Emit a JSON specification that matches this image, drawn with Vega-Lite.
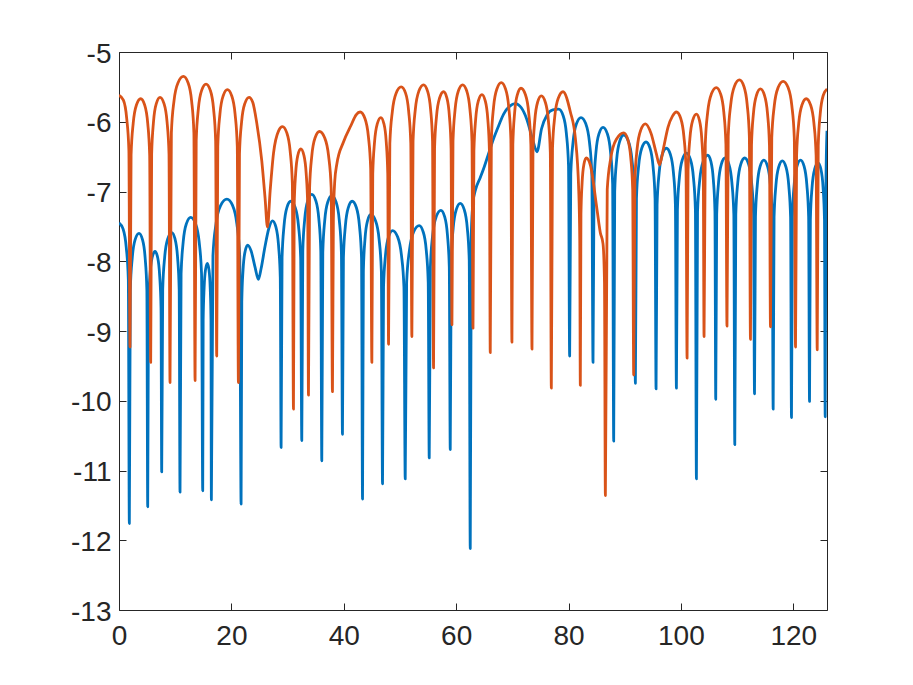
{
  "$schema": "https://vega.github.io/schema/vega-lite/v6.json",
  "width": 708,
  "height": 558,
  "autosize": {"type": "none"},
  "padding": {"left": 119, "top": 52, "right": 86, "bottom": 75},
  "background": "white",
  "config": {
    "view": {"stroke": null},
    "axis": {
      "grid": false,
      "domainColor": "#262626",
      "domainWidth": 1,
      "tickColor": "#262626",
      "tickWidth": 1,
      "tickSize": -7,
      "labelFont": "Liberation Sans",
      "labelFontSize": 28,
      "labelColor": "#262626",
      "labelFlush": false,
      "title": null
    }
  },
  "datasets": {
    "blue": [
      {"x":0,"y":-7.45},{"x":0.74,"y":-7.54},{"x":1.29,"y":-7.80},{"x":1.66,"y":-8.26},{"x":1.84,"y":-11.76},
      {"x":2.01,"y":-8.41},{"x":2.36,"y":-7.95},{"x":2.87,"y":-7.69},{"x":3.56,"y":-7.60},{"x":4.18,"y":-7.69},{"x":4.65,"y":-7.95},{"x":4.96,"y":-8.41},{"x":5.11,"y":-11.52},
      {"x":5.24,"y":-8.67},{"x":5.50,"y":-8.21},{"x":5.89,"y":-7.95},{"x":6.41,"y":-7.86},{"x":6.89,"y":-7.95},{"x":7.24,"y":-8.21},{"x":7.48,"y":-8.67},{"x":7.60,"y":-11.02},
      {"x":7.78,"y":-8.40},{"x":8.13,"y":-7.94},{"x":8.67,"y":-7.68},{"x":9.38,"y":-7.59},{"x":9.97,"y":-7.68},{"x":10.42,"y":-7.94},{"x":10.71,"y":-8.40},{"x":10.86,"y":-11.31},
      {"x":11.05,"y":-8.18},{"x":11.43,"y":-7.72},{"x":12.0,"y":-7.46},{"x":12.76,"y":-7.37},{"x":13.62,"y":-7.46},{"x":14.26,"y":-7.72},{"x":14.69,"y":-8.18},{"x":14.90,"y":-11.29},
      {"x":14.98,"y":-8.84},{"x":15.15,"y":-8.38},{"x":15.40,"y":-8.12},{"x":15.73,"y":-8.03},{"x":16.01,"y":-8.12},{"x":16.23,"y":-8.38},{"x":16.37,"y":-8.84},{"x":16.44,"y":-11.42},
      {"x":16.72,"y":-7.92},{"x":17.27,"y":-7.46},{"x":18.10,"y":-7.20},{"x":19.2,"y":-7.11},{"x":20.21,"y":-7.20},{"x":20.97,"y":-7.46},{"x":21.48,"y":-7.92},{"x":21.73,"y":-11.48},
      {"x":21.85,"y":-8.58},{"x":22.08,"y":-8.12},{"x":22.44,"y":-7.86},{"x":22.91,"y":-7.77},{"x":23.5,"y":-7.85},{"x":24.2,"y":-8.08},{"x":24.81,"y":-8.26},{"x":25.3,"y":-8.1},
      {"x":26.0,"y":-7.78},{"x":26.7,"y":-7.52},{"x":27.31,"y":-7.42},{"x":27.93,"y":-7.51},{"x":28.39,"y":-7.77},{"x":28.70,"y":-8.23},{"x":28.85,"y":-10.67},
      {"x":29.02,"y":-7.95},{"x":29.37,"y":-7.49},{"x":29.88,"y":-7.23},{"x":30.57,"y":-7.14},{"x":31.35,"y":-7.23},{"x":31.94,"y":-7.49},{"x":32.33,"y":-7.95},{"x":32.53,"y":-10.57},
      {"x":32.71,"y":-7.85},{"x":33.06,"y":-7.39},{"x":33.60,"y":-7.13},{"x":34.31,"y":-7.04},{"x":35.02,"y":-7.13},{"x":35.56,"y":-7.39},{"x":35.91,"y":-7.85},{"x":36.09,"y":-10.86},
      {"x":36.27,"y":-7.87},{"x":36.62,"y":-7.41},{"x":37.16,"y":-7.15},{"x":37.87,"y":-7.06},{"x":38.63,"y":-7.15},{"x":39.20,"y":-7.41},{"x":39.58,"y":-7.87},{"x":39.77,"y":-10.48},
      {"x":39.94,"y":-7.95},{"x":40.29,"y":-7.49},{"x":40.81,"y":-7.23},{"x":41.5,"y":-7.14},{"x":42.24,"y":-7.23},{"x":42.79,"y":-7.49},{"x":43.16,"y":-7.95},{"x":43.34,"y":-11.41},
      {"x":43.49,"y":-8.14},{"x":43.78,"y":-7.68},{"x":44.23,"y":-7.42},{"x":44.82,"y":-7.33},{"x":45.65,"y":-7.42},{"x":46.28,"y":-7.68},{"x":46.69,"y":-8.14},{"x":46.9,"y":-11.19},
      {"x":47.08,"y":-8.37},{"x":47.43,"y":-7.91},{"x":47.97,"y":-7.65},{"x":48.68,"y":-7.56},{"x":49.58,"y":-7.65},{"x":50.26,"y":-7.91},{"x":50.71,"y":-8.37},{"x":50.94,"y":-11.12},
      {"x":51.19,"y":-8.30},{"x":51.69,"y":-7.84},{"x":52.43,"y":-7.58},{"x":53.43,"y":-7.49},{"x":54.14,"y":-7.58},{"x":54.68,"y":-7.84},{"x":55.03,"y":-8.30},{"x":55.21,"y":-10.82},
      {"x":55.42,"y":-8.08},{"x":55.83,"y":-7.62},{"x":56.46,"y":-7.36},{"x":57.29,"y":-7.27},{"x":57.95,"y":-7.36},{"x":58.45,"y":-7.62},{"x":58.78,"y":-8.08},{"x":58.95,"y":-10.70},
      {"x":59.13,"y":-7.98},{"x":59.48,"y":-7.52},{"x":60.02,"y":-7.26},{"x":60.73,"y":-7.17},{"x":61.44,"y":-7.26},{"x":61.98,"y":-7.52},{"x":62.33,"y":-7.98},{"x":62.51,"y":-12.12},
      {"x":62.7,"y":-7.6},{"x":63.0,"y":-7.15},{"x":63.4,"y":-6.99},{"x":64.3,"y":-6.80},{"x":64.9,"y":-6.67},{"x":65.8,"y":-6.45},{"x":66.67,"y":-6.24},{"x":67.6,"y":-6.05},
      {"x":68.45,"y":-5.89},{"x":69.5,"y":-5.78},{"x":70.53,"y":-5.74},{"x":71.6,"y":-5.80},{"x":72.6,"y":-5.97},{"x":73.6,"y":-6.25},{"x":74.39,"y":-6.43},{"x":75.2,"y":-6.10},
      {"x":76.2,"y":-5.90},{"x":77.2,"y":-5.83},{"x":78.25,"y":-5.82},{"x":79.03,"y":-5.91},{"x":79.62,"y":-6.17},{"x":80.0,"y":-6.63},{"x":80.2,"y":-9.36},
      {"x":80.40,"y":-6.75},{"x":80.81,"y":-6.29},{"x":81.41,"y":-6.03},{"x":82.22,"y":-5.94},{"x":83.08,"y":-6.03},{"x":83.72,"y":-6.29},{"x":84.15,"y":-6.75},{"x":84.36,"y":-9.45},
      {"x":84.54,"y":-6.89},{"x":84.89,"y":-6.43},{"x":85.43,"y":-6.17},{"x":86.14,"y":-6.08},{"x":86.90,"y":-6.17},{"x":87.47,"y":-6.43},{"x":87.85,"y":-6.89},{"x":88.04,"y":-10.58},
      {"x":88.22,"y":-7.0},{"x":88.57,"y":-6.54},{"x":89.11,"y":-6.28},{"x":89.82,"y":-6.19},{"x":90.65,"y":-6.28},{"x":91.28,"y":-6.54},{"x":91.69,"y":-7.0},{"x":91.9,"y":-9.75},
      {"x":92.09,"y":-7.10},{"x":92.47,"y":-6.64},{"x":93.03,"y":-6.38},{"x":93.79,"y":-6.29},{"x":94.51,"y":-6.38},{"x":95.04,"y":-6.64},{"x":95.40,"y":-7.10},{"x":95.58,"y":-9.83},
      {"x":95.76,"y":-7.19},{"x":96.13,"y":-6.73},{"x":96.68,"y":-6.47},{"x":97.42,"y":-6.38},{"x":98.13,"y":-6.47},{"x":98.67,"y":-6.73},{"x":99.02,"y":-7.19},{"x":99.2,"y":-9.82},
      {"x":99.38,"y":-7.26},{"x":99.73,"y":-6.80},{"x":100.27,"y":-6.54},{"x":100.98,"y":-6.45},{"x":101.69,"y":-6.54},{"x":102.23,"y":-6.80},{"x":102.58,"y":-7.26},{"x":102.76,"y":-11.12},
      {"x":102.96,"y":-7.29},{"x":103.36,"y":-6.83},{"x":103.97,"y":-6.57},{"x":104.77,"y":-6.48},{"x":105.34,"y":-6.57},{"x":105.77,"y":-6.83},{"x":106.06,"y":-7.29},{"x":106.2,"y":-9.98},
      {"x":106.37,"y":-7.33},{"x":106.70,"y":-6.87},{"x":107.19,"y":-6.61},{"x":107.85,"y":-6.52},{"x":108.55,"y":-6.61},{"x":109.07,"y":-6.87},{"x":109.42,"y":-7.33},{"x":109.59,"y":-10.63},
      {"x":109.77,"y":-7.33},{"x":110.12,"y":-6.87},{"x":110.65,"y":-6.61},{"x":111.35,"y":-6.52},{"x":112.05,"y":-6.61},{"x":112.58,"y":-6.87},{"x":112.93,"y":-7.33},{"x":113.1,"y":-9.90},
      {"x":113.27,"y":-7.36},{"x":113.60,"y":-6.90},{"x":114.10,"y":-6.64},{"x":114.76,"y":-6.55},{"x":115.42,"y":-6.64},{"x":115.92,"y":-6.90},{"x":116.25,"y":-7.36},{"x":116.42,"y":-10.12},
      {"x":116.58,"y":-7.37},{"x":116.91,"y":-6.91},{"x":117.40,"y":-6.65},{"x":118.05,"y":-6.56},{"x":118.70,"y":-6.65},{"x":119.19,"y":-6.91},{"x":119.52,"y":-7.37},{"x":119.68,"y":-10.24},
      {"x":119.84,"y":-7.36},{"x":120.16,"y":-6.90},{"x":120.65,"y":-6.64},{"x":121.29,"y":-6.55},{"x":121.93,"y":-6.64},{"x":122.41,"y":-6.90},{"x":122.73,"y":-7.36},{"x":122.89,"y":-10.01},
      {"x":123.04,"y":-7.40},{"x":123.34,"y":-6.94},{"x":123.80,"y":-6.68},{"x":124.4,"y":-6.59},{"x":124.91,"y":-6.68},{"x":125.30,"y":-6.94},{"x":125.55,"y":-7.40},{"x":125.68,"y":-10.23},
      {"x":125.8,"y":-7.0},{"x":126.0,"y":-6.13}
    ],
    "orange": [
      {"x":0,"y":-5.62},{"x":0.78,"y":-5.69},{"x":1.37,"y":-5.95},{"x":1.76,"y":-6.41},{"x":1.96,"y":-9.23},
      {"x":2.15,"y":-6.48},{"x":2.53,"y":-6.02},{"x":3.10,"y":-5.76},{"x":3.86,"y":-5.67},{"x":4.57,"y":-5.76},{"x":5.11,"y":-6.02},{"x":5.46,"y":-6.48},{"x":5.64,"y":-9.45},
      {"x":5.81,"y":-6.46},{"x":6.14,"y":-6.00},{"x":6.64,"y":-5.74},{"x":7.30,"y":-5.65},{"x":8.01,"y":-5.74},{"x":8.55,"y":-6.00},{"x":8.90,"y":-6.46},{"x":9.08,"y":-9.74},
      {"x":9.32,"y":-6.16},{"x":9.79,"y":-5.70},{"x":10.51,"y":-5.44},{"x":11.46,"y":-5.35},{"x":12.29,"y":-5.44},{"x":12.92,"y":-5.70},{"x":13.33,"y":-6.16},{"x":13.54,"y":-9.71},
      {"x":13.74,"y":-6.27},{"x":14.13,"y":-5.81},{"x":14.71,"y":-5.55},{"x":15.49,"y":-5.46},{"x":16.25,"y":-5.55},{"x":16.82,"y":-5.81},{"x":17.20,"y":-6.27},{"x":17.39,"y":-9.36},
      {"x":17.58,"y":-6.35},{"x":17.96,"y":-5.89},{"x":18.53,"y":-5.63},{"x":19.29,"y":-5.54},{"x":20.07,"y":-5.63},{"x":20.66,"y":-5.89},{"x":21.05,"y":-6.35},{"x":21.25,"y":-9.74},
      {"x":21.44,"y":-6.46},{"x":21.82,"y":-6.00},{"x":22.39,"y":-5.74},{"x":23.15,"y":-5.65},{"x":23.8,"y":-5.72},{"x":24.52,"y":-6.02},{"x":25.41,"y":-6.56},{"x":26.0,"y":-7.10},
      {"x":26.42,"y":-7.51},{"x":26.9,"y":-6.99},{"x":27.5,"y":-6.45},{"x":28.4,"y":-6.13},{"x":29.09,"y":-6.07},{"x":29.87,"y":-6.16},{"x":30.46,"y":-6.42},{"x":30.85,"y":-6.88},{"x":31.05,"y":-10.12},
      {"x":31.18,"y":-7.20},{"x":31.44,"y":-6.74},{"x":31.83,"y":-6.48},{"x":32.35,"y":-6.39},{"x":32.90,"y":-6.48},{"x":33.31,"y":-6.74},{"x":33.58,"y":-7.20},{"x":33.72,"y":-9.92},
      {"x":33.92,"y":-6.95},{"x":34.31,"y":-6.49},{"x":34.90,"y":-6.23},{"x":35.68,"y":-6.14},{"x":36.60,"y":-6.23},{"x":37.30,"y":-6.49},{"x":37.76,"y":-6.95},{"x":37.99,"y":-9.87},
      {"x":38.15,"y":-7.4},{"x":38.4,"y":-6.85},{"x":38.76,"y":-6.61},{"x":39.95,"y":-6.29},{"x":41.3,"y":-6.05},{"x":42.2,"y":-5.9},{"x":42.92,"y":-5.86},
      {"x":43.75,"y":-5.95},{"x":44.38,"y":-6.21},{"x":44.79,"y":-6.67},{"x":45.0,"y":-9.45},
      {"x":45.16,"y":-6.75},{"x":45.48,"y":-6.29},{"x":45.96,"y":-6.03},{"x":46.6,"y":-5.94},{"x":47.15,"y":-6.03},{"x":47.56,"y":-6.29},{"x":47.83,"y":-6.75},{"x":47.97,"y":-9.19},
      {"x":48.20,"y":-6.31},{"x":48.65,"y":-5.85},{"x":49.32,"y":-5.59},{"x":50.22,"y":-5.50},{"x":51.0,"y":-5.59},{"x":51.55,"y":-5.85},{"x":51.93,"y":-6.31},{"x":52.12,"y":-9.08},
      {"x":52.33,"y":-6.28},{"x":52.74,"y":-5.82},{"x":53.37,"y":-5.56},{"x":54.2,"y":-5.47},{"x":54.91,"y":-5.56},{"x":55.45,"y":-5.82},{"x":55.80,"y":-6.28},{"x":55.98,"y":-9.53},
      {"x":56.16,"y":-6.38},{"x":56.51,"y":-5.92},{"x":57.05,"y":-5.66},{"x":57.76,"y":-5.57},{"x":58.36,"y":-5.66},{"x":58.80,"y":-5.92},{"x":59.10,"y":-6.38},{"x":59.25,"y":-8.91},
      {"x":59.44,"y":-6.28},{"x":59.82,"y":-5.82},{"x":60.39,"y":-5.56},{"x":61.15,"y":-5.47},{"x":61.89,"y":-5.56},{"x":62.45,"y":-5.82},{"x":62.82,"y":-6.28},{"x":63.0,"y":-8.96},
      {"x":63.16,"y":-6.42},{"x":63.48,"y":-5.96},{"x":63.95,"y":-5.70},{"x":64.59,"y":-5.61},{"x":65.18,"y":-5.70},{"x":65.63,"y":-5.96},{"x":65.92,"y":-6.42},{"x":66.07,"y":-9.31},
      {"x":66.27,"y":-6.25},{"x":66.66,"y":-5.79},{"x":67.25,"y":-5.53},{"x":68.03,"y":-5.44},{"x":68.79,"y":-5.53},{"x":69.36,"y":-5.79},{"x":69.74,"y":-6.25},{"x":69.93,"y":-9.16},
      {"x":70.09,"y":-6.33},{"x":70.41,"y":-5.87},{"x":70.90,"y":-5.61},{"x":71.54,"y":-5.52},{"x":72.32,"y":-5.61},{"x":72.91,"y":-5.87},{"x":73.30,"y":-6.33},{"x":73.5,"y":-9.26},
      {"x":73.67,"y":-6.44},{"x":74.0,"y":-5.98},{"x":74.50,"y":-5.72},{"x":75.16,"y":-5.63},{"x":75.87,"y":-5.72},{"x":76.41,"y":-5.98},{"x":76.76,"y":-6.44},{"x":76.94,"y":-9.82},
      {"x":77.15,"y":-6.38},{"x":77.56,"y":-5.92},{"x":78.19,"y":-5.66},{"x":79.02,"y":-5.57},{"x":80.33,"y":-5.86},{"x":81.22,"y":-6.24},{"x":81.82,"y":-6.99},{"x":82.0,"y":-7.7},{"x":82.1,"y":-9.78},
      {"x":82.21,"y":-7.33},{"x":82.42,"y":-6.87},{"x":82.74,"y":-6.61},{"x":83.17,"y":-6.52},{"x":83.88,"y":-6.62},{"x":85.07,"y":-7.26},{"x":85.66,"y":-7.59},{"x":86.14,"y":-7.75},{"x":86.4,"y":-8.3},{"x":86.56,"y":-11.36},
      {"x":86.89,"y":-6.97},{"x":87.54,"y":-6.51},{"x":88.52,"y":-6.25},{"x":89.82,"y":-6.16},{"x":90.53,"y":-6.25},{"x":91.07,"y":-6.51},{"x":91.42,"y":-6.97},{"x":91.6,"y":-9.63},
      {"x":91.81,"y":-6.84},{"x":92.22,"y":-6.38},{"x":92.85,"y":-6.12},{"x":93.68,"y":-6.03},{"x":94.7,"y":-6.17},{"x":95.6,"y":-6.45},{"x":96.2,"y":-6.62},{"x":96.9,"y":-6.38},
      {"x":97.7,"y":-6.08},{"x":98.5,"y":-5.92},{"x":99.2,"y":-5.86},{"x":99.96,"y":-5.95},{"x":100.53,"y":-6.21},{"x":100.91,"y":-6.67},{"x":101.1,"y":-9.39},
      {"x":101.27,"y":-6.70},{"x":101.6,"y":-6.24},{"x":102.1,"y":-5.98},{"x":102.76,"y":-5.89},{"x":103.30,"y":-5.98},{"x":103.71,"y":-6.24},{"x":103.98,"y":-6.70},{"x":104.12,"y":-9.08},
      {"x":104.34,"y":-6.32},{"x":104.77,"y":-5.86},{"x":105.43,"y":-5.60},{"x":106.3,"y":-5.51},{"x":107.06,"y":-5.60},{"x":107.63,"y":-5.86},{"x":108.01,"y":-6.32},{"x":108.2,"y":-8.93},
      {"x":108.42,"y":-6.21},{"x":108.87,"y":-5.75},{"x":109.53,"y":-5.49},{"x":110.42,"y":-5.40},{"x":111.20,"y":-5.49},{"x":111.79,"y":-5.75},{"x":112.18,"y":-6.21},{"x":112.38,"y":-9.12},
      {"x":112.56,"y":-6.34},{"x":112.91,"y":-5.88},{"x":113.45,"y":-5.62},{"x":114.16,"y":-5.53},{"x":114.87,"y":-5.62},{"x":115.41,"y":-5.88},{"x":115.76,"y":-6.34},{"x":115.94,"y":-8.94},
      {"x":116.17,"y":-6.23},{"x":116.62,"y":-5.77},{"x":117.30,"y":-5.51},{"x":118.2,"y":-5.42},{"x":119.08,"y":-5.51},{"x":119.74,"y":-5.77},{"x":120.18,"y":-6.23},{"x":120.4,"y":-9.23},
      {"x":120.59,"y":-6.48},{"x":120.97,"y":-6.02},{"x":121.54,"y":-5.76},{"x":122.3,"y":-5.67},{"x":123.08,"y":-5.76},{"x":123.67,"y":-6.02},{"x":124.06,"y":-6.48},{"x":124.26,"y":-9.27},
      {"x":124.44,"y":-6.34},{"x":124.8,"y":-5.88},{"x":125.34,"y":-5.62},{"x":126.0,"y":-5.53}
    ]
  },
  "layer": [
    {
      "data": {"name": "blue"},
      "mark": {"type": "line", "color": "#0072BD", "strokeWidth": 2.8, "interpolate": "monotone", "strokeJoin": "round", "clip": true},
      "encoding": {
        "x": {"field": "x", "type": "quantitative", "scale": {"domain": [0, 126], "nice": false, "zero": false},
              "axis": {"orient": "bottom", "values": [0, 20, 40, 60, 80, 100, 120], "labelPadding": 19}},
        "y": {"field": "y", "type": "quantitative", "scale": {"domain": [-13, -5], "nice": false, "zero": false},
              "axis": {"orient": "left", "values": [-13, -12, -11, -10, -9, -8, -7, -6, -5], "labelPadding": 15, "labelOffset": 2, "labelExpr": "replace(datum.label, '\u2212', '-')"}}
      }
    },
    {
      "data": {"name": "orange"},
      "mark": {"type": "line", "color": "#D95319", "strokeWidth": 2.8, "interpolate": "monotone", "strokeJoin": "round", "clip": true},
      "encoding": {
        "x": {"field": "x", "type": "quantitative", "axis": null},
        "y": {"field": "y", "type": "quantitative", "axis": null}
      }
    },
    {
      "data": {"name": "orange"},
      "mark": {"type": "line", "opacity": 0},
      "encoding": {
        "x": {"field": "x", "type": "quantitative", "axis": {"orient": "top", "values": [0, 20, 40, 60, 80, 100, 120], "labels": false}},
        "y": {"field": "y", "type": "quantitative", "axis": {"orient": "right", "values": [-13, -12, -11, -10, -9, -8, -7, -6, -5], "labels": false}}
      }
    }
  ],
  "resolve": {"axis": {"x": "independent", "y": "independent"}}
}
